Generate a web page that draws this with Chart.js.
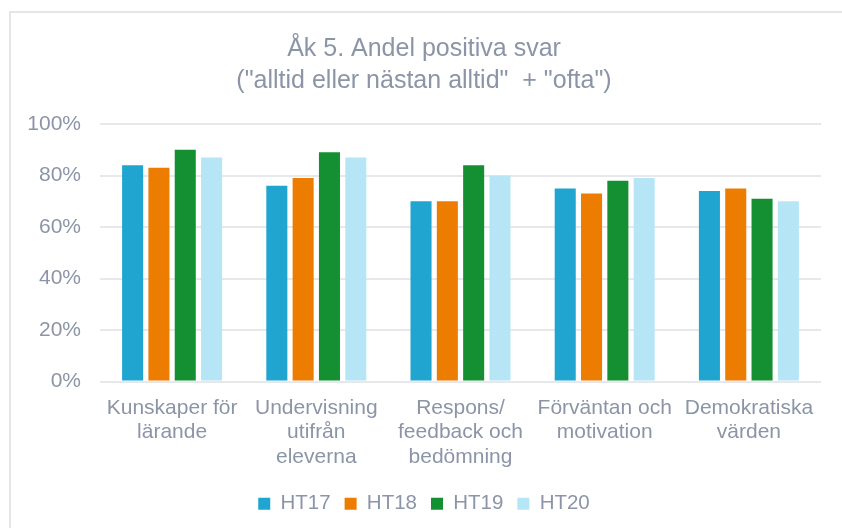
<!DOCTYPE html>
<html>
<head>
<meta charset="utf-8">
<script src="https://cdn.jsdelivr.net/npm/chart.js@4.4.1/dist/chart.umd.min.js"></script>
<style>
  html, body { margin: 0; padding: 0; background: #fff; overflow: hidden; }
  #box {
    position: absolute; left: 9px; top: 11px;
    width: 831px; height: 515px;
    border-left: 2px solid #e3e5e9; border-top: 2px solid #e3e5e9;
  }
</style>
</head>
<body>
<div id="box"><canvas id="chart" width="831" height="515"></canvas></div>
<script>
// data
const categories = [
  ['Kunskaper för', 'lärande'],
  ['Undervisning', 'utifrån', 'eleverna'],
  ['Respons/', 'feedback och', 'bedömning'],
  ['Förväntan och', 'motivation'],
  ['Demokratiska', 'värden']
];
const seriesNames = ['HT17', 'HT18', 'HT19', 'HT20'];
const ht17 = [84, 76, 70, 75, 74];
const ht18 = [83, 79, 70, 73, 75];
const ht19 = [90, 89, 84, 78, 71];
const ht20 = [87, 87, 80, 79, 70];
const yTicks = [0, 20, 40, 60, 80, 100];

const colors = ['#1fa5d0', '#ec7d00', '#149033', '#b6e6f6'];
const textColor = '#8b95a7';
const fontFamily = '"Liberation Sans", Arial, sans-serif';

const values = [ht17, ht18, ht19, ht20];
const datasets = [];
for (var i = 0; i < seriesNames.length; i++) {
  datasets.push({
    label: seriesNames[i],
    data: values[i],
    backgroundColor: colors[i],
    borderWidth: 0,
    categoryPercentage: 0.73,
    barPercentage: 0.8
  });
}

new Chart(document.getElementById('chart'), {
  type: 'bar',
  data: { labels: categories, datasets: datasets },
  options: {
    responsive: false,
    animation: false,
    layout: { padding: { left: 16, right: 21, top: 0, bottom: 4 } },
    plugins: {
      title: {
        display: true,
        text: ['Åk 5. Andel positiva svar', '("alltid eller nästan alltid"  + "ofta")'],
        color: textColor,
        font: { family: fontFamily, size: 25, weight: 'normal', lineHeight: 32 / 25 },
        padding: { top: 20, bottom: 27 }
      },
      legend: {
        position: 'bottom',
        labels: {
          color: textColor,
          font: { family: fontFamily, size: 20.5 },
          boxWidth: 12,
          boxHeight: 12,
          padding: 14
        }
      },
      tooltip: { enabled: false }
    },
    scales: {
      x: {
        grid: { display: false, drawTicks: false },
        border: { display: false },
        ticks: {
          color: textColor,
          font: { family: fontFamily, size: 21, lineHeight: 1.17 },
          padding: 14,
          maxRotation: 0,
          autoSkip: false
        },
        afterFit: function (scale) { scale.height = 98; }
      },
      y: {
        min: 0,
        max: 100,
        afterBuildTicks: function (scale) {
          scale.ticks = yTicks.map(function (v) { return { value: v }; });
        },
        grid: { color: '#e6e8ec', lineWidth: 2, drawTicks: false },
        border: { display: false },
        ticks: {
          color: textColor,
          font: { family: fontFamily, size: 21 },
          padding: 19,
          callback: function (v) { return v + '%'; }
        },
        afterFit: function (scale) { scale.width = 73; }
      }
    }
  }
});
</script>
</body>
</html>
